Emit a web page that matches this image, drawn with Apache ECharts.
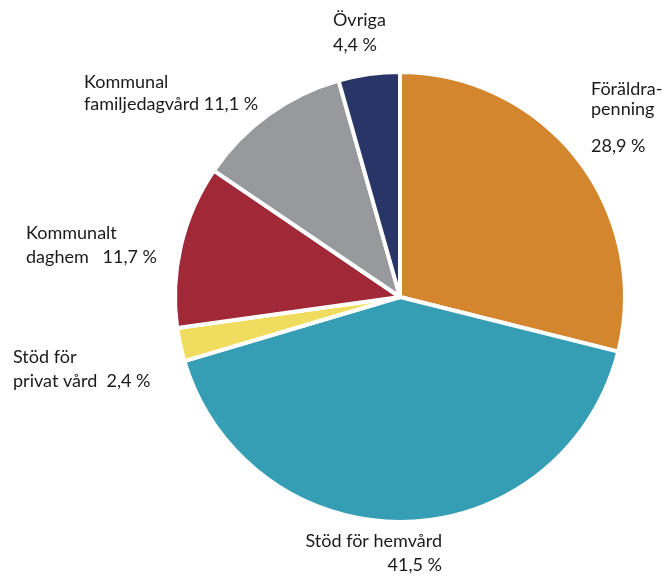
<!DOCTYPE html>
<html><head><meta charset="utf-8">
<script src="https://cdn.jsdelivr.net/npm/echarts@6/dist/echarts.min.js"></script>
<style>html,body{margin:0;padding:0;background:#fff}#c{width:665px;height:576px}</style>
</head><body><div id="c"></div>
<script>
const names = ['Föräldrapenning','Stöd för hemvård','Stöd för privat vård','Kommunalt daghem','Kommunal familjedagvård','Övriga'];
const labelTexts = ['{a|Föräldra-}\n{a|penning}\n{b|28,9 %}','Stöd för hemvård\n41,5 %','Stöd för\nprivat vård  2,4 %','Kommunalt\ndaghem   11,7 %','Kommunal\nfamiljedagvård 11,1 %','Övriga\n4,4 %'];
const values = [28.9, 41.5, 2.4, 11.7, 11.1, 4.4];
const colors = ['#D4862E','#359DB4','#F0DC5E','#A02837','#98999C','#283566'];
const labelPos = [[591,79,'left'],[442,529,'right'],[13,345,'left'],[26,221,'left'],[84,71,'left'],[333,8,'left']];
const lineHeights = [20,24,24,24,22,25];

const chart = echarts.init(document.getElementById('c'));
chart.setOption({
  animation:false,
  series:[{
    type:'pie',
    center:[400,297],
    radius:[0,225],
    startAngle:90,
    clockwise:true,
    data: names.map((n,i)=>({name:n,value:values[i],itemStyle:{color:colors[i]},label:{lineHeight:lineHeights[i]}})),
    itemStyle:{borderColor:'#fff',borderWidth:4},
    label:{
      show:true,
      position:'outside',
      formatter:(p)=>labelTexts[p.dataIndex],
      fontFamily:'Lato',
      fontSize:18,
      color:'#1a1a1a',
      overflow:'none',
      rich:{
        a:{fontFamily:'Lato',fontSize:18,lineHeight:20,color:'#1a1a1a'},
        b:{fontFamily:'Lato',fontSize:18,lineHeight:36,color:'#1a1a1a',verticalAlign:'bottom'}
      }
    },
    labelLine:{show:false},
    labelLayout:(p)=>({x:labelPos[p.dataIndex][0],y:labelPos[p.dataIndex][1],align:labelPos[p.dataIndex][2],verticalAlign:'top',hideOverlap:false,moveOverlap:null})
  }]
});
</script></body></html>
